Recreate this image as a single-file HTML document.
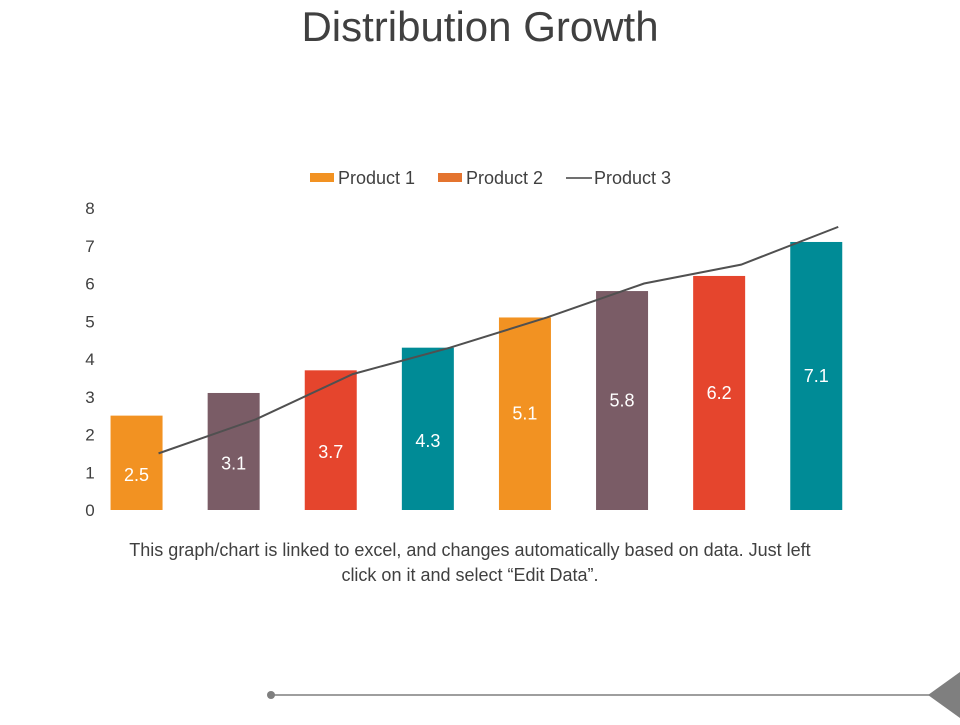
<!DOCTYPE html>
<html><head><meta charset="utf-8"><style>
body{margin:0;width:960px;height:720px;background:#fff;font-family:"Liberation Sans",sans-serif;overflow:hidden}
</style></head><body>
<svg width="960" height="720">
<text x="480" y="41" text-anchor="middle" font-size="42" fill="#404040">Distribution Growth</text>
<g>
<rect x="310" y="173" width="24" height="9" fill="#f29222"/>
<text x="338" y="184" font-size="18" fill="#404040">Product 1</text>
<rect x="438" y="173" width="24" height="9" fill="#e4742f"/>
<text x="466" y="184" font-size="18" fill="#404040">Product 2</text>
<line x1="566" y1="178" x2="592" y2="178" stroke="#404040" stroke-width="1.5"/>
<text x="594" y="184" font-size="18" fill="#404040">Product 3</text>
</g>
<g id="yaxis"></g><g id="bars"></g><g id="line"></g>
<text x="470" y="556" text-anchor="middle" font-size="18" fill="#404040">This graph/chart is linked to excel, and changes automatically based on data. Just left</text>
<text x="470" y="581" text-anchor="middle" font-size="18" fill="#404040">click on it and select “Edit Data”.</text>
<line x1="271" y1="695" x2="930" y2="695" stroke="#7f7f7f" stroke-width="1.5"/>
<circle cx="271" cy="695" r="4" fill="#7f7f7f"/>
<polygon points="960,672 960,718 928,695" fill="#7f7f7f"/>
</svg>
<script>
const categories=["C1","C2","C3","C4","C5","C6","C7","C8"];
const barValues=[2.5,3.1,3.7,4.3,5.1,5.8,6.2,7.1];
const lineValues=[1.5,2.4,3.6,4.3,5.1,6.0,6.5,7.5];
const yTicks=[0,1,2,3,4,5,6,7,8];
const barColors=["#f29222","#7a5c66","#e5452d","#008b96","#f29222","#7a5c66","#e5452d","#008b96"];
const NS="http://www.w3.org/2000/svg";
const y0=510,yTop=208,yMax=8;
function y(v){return y0-(v/yMax)*(y0-yTop);}
const left=88,step=97.1;
function x(i){return left+step*(i+0.5);}
function mk(tag,attrs,parent){const e=document.createElementNS(NS,tag);for(const k in attrs)e.setAttribute(k,attrs[k]);parent.appendChild(e);return e;}
const ya=document.getElementById('yaxis');
yTicks.forEach(t=>{const e=mk('text',{x:90,y:y(t)+6,'text-anchor':'middle','font-size':17,fill:'#404040'},ya);


e.textContent=t;});
const bg=document.getElementById('bars');
barValues.forEach((v,i)=>{const r=mk('rect',{x:x(i)-26,y:y(v),width:52,height:y0-y(v),fill:barColors[i]},bg);


const t=mk('text',{x:x(i),y:(y(v)+y0)/2+6+ (i<4?12:0),'text-anchor':'middle','font-size':18,fill:'#fff'},bg);


t.textContent=v;});
const lg=document.getElementById('line');
const p=mk('polyline',{points:lineValues.map((v,i)=>(x(i)+22)+','+y(v)).join(' '),fill:'none',stroke:'#505050','stroke-width':2},lg);


</script>
</body></html>
